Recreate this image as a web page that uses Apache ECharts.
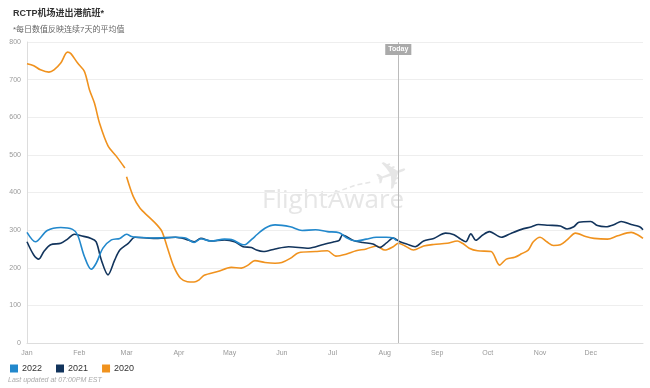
<!DOCTYPE html>
<html>
<head>
<meta charset="utf-8">
<script src="https://cdn.jsdelivr.net/npm/echarts@6/dist/echarts.min.js"></script>
<style>
html,body{margin:0;padding:0;background:#fff;}
#c{width:650px;height:388px;}
</style>
</head>
<body>
<div id="c"></div>
<script>
// ---- data (day of year, value) ----
const monthNames = ['Jan','Feb','Mar','Apr','May','Jun','Jul','Aug','Sep','Oct','Nov','Dec'];
const monthStarts = [0,31,59,90,120,151,181,212,243,273,304,334];
const todayDay = 220;

const days2022 = [0,5,12,20,27,30,34,38,41,45,50,55,59,62,65,75,88,94,99,103,109,117,122,128,130,135,141,147,156,163,171,178,185,190,195,201,207,213,217,219];
const vals2022 = [294,269,299,307,302,287,230,196,212,252,274,278,289,283,281,279,281,279,267,277,271,276,274,261,263,283,305,314,309,299,301,296,293,278,271,276,281,281,279,272];

const days2021 = [0,4,7,10,14,20,24,28,32,38,41,44,48,52,55,60,64,75,88,94,99,103,109,117,123,128,133,136,140,147,155,167,175,182,185,187,193,199,205,209,213,217,221,225,230,235,241,248,253,257,260,263,266,270,274,281,287,293,299,303,309,316,320,324,327,334,338,343,348,352,358,363,365];
const vals2021 = [269,234,223,243,261,265,276,289,285,278,269,221,181,221,247,265,281,278,281,276,269,278,271,274,269,256,254,247,243,250,256,252,261,269,273,287,273,267,263,254,266,279,269,263,256,271,278,292,288,276,269,290,273,287,296,281,292,302,309,315,313,311,303,309,321,323,312,309,315,323,315,309,301];

const days2020 = [0,4,8,13,16,20,24,26,30,34,37,40,43,48,53,58,58.5,59,63,67,72,77,80,83,87,91,95,99,102,105,113,121,127,131,135,141,147,151,156,161,171,178,183,189,195,201,207,212,217,220,224,229,235,241,249,255,258,262,267,275,280,284,289,293,297,300,304,308,312,316,320,325,331,336,344,350,358,362,365];
const vals2020 = [742,737,726,720,726,744,773,769,744,722,673,637,584,524,496,465,null,442,389,358,336,314,296,256,203,172,163,162,168,180,190,201,199,207,219,214,212,214,225,240,243,245,231,236,245,250,258,247,256,265,258,247,258,262,265,271,265,252,245,243,207,223,228,237,247,269,281,269,259,261,274,292,283,278,276,285,294,287,278];

const yTicks = [0,100,200,300,400,500,600,700,800];

function pairs(d, v){ return d.map((x,i)=>[x, v[i]===null ? '-' : v[i]]); }

const chart = echarts.init(document.getElementById('c'), null, {renderer:'canvas'});
const font = 'Arial, "Liberation Sans", "Noto Sans CJK SC", sans-serif';
const lineW = 1.6;
chart.setOption({
  animation:false,
  textStyle:{fontFamily:font},
  title:[
    {text:'RCTP机场进出港航班*', left:8, top:4, textStyle:{fontSize:9, fontWeight:'bold', color:'#333', fontFamily:font}},
    {text:'*每日数值反映连续7天的平均值', left:8, top:21, textStyle:{fontSize:8, fontWeight:'normal', color:'#666', fontFamily:font}},
    {text:'Last updated at 07:00PM EST', left:3, top:372, textStyle:{fontSize:7, fontStyle:'italic', fontWeight:'normal', color:'#aaa', fontFamily:font}}
  ],
  legend:{
    left:5, top:359, itemWidth:8, itemHeight:8, itemGap:14, icon:'rect',
    textStyle:{fontSize:9, color:'#333', padding:[0,0,0,-1]},
    data:['2022','2021','2020']
  },
  grid:{left:27, right:7, top:42, bottom:45},
  xAxis:{
    type:'value', min:0, max:365,
    axisLine:{show:true, lineStyle:{color:'#ddd'}},
    axisTick:{show:false},
    splitLine:{show:false},
    axisLabel:{
      customValues:monthStarts, fontSize:7, color:'#999', margin:7,
      formatter:function(v){ const i = monthStarts.indexOf(v); return i>=0 ? monthNames[i] : ''; }
    }
  },
  yAxis:{
    type:'value', min:0, max:800, interval:100,
    axisLine:{show:true, lineStyle:{color:'#ddd'}},
    axisTick:{show:false},
    splitLine:{lineStyle:{color:'#eee'}},
    axisLabel:{fontSize:7, color:'#999', margin:6}
  },
  graphic:[
    {type:'text', left:262, top:188, silent:true, z:0,
     style:{text:'FlightAware', fontSize:26, fill:'#e6e6e6', fontFamily:'"Open Sans", sans-serif'}},
    {type:'polyline', silent:true, z:0,
     shape:{points:[[328,197],[342,190],[356,185],[372,182]]},
     style:{stroke:'#e6e6e6', lineWidth:1.5, lineDash:[5,3], fill:null}},
    {type:'text', x:393, y:178, silent:true, z:0, rotation:0.35,
     style:{text:'✈', fontSize:40, fill:'#e6e6e6', align:'center', verticalAlign:'middle', fontFamily:'"DejaVu Sans", sans-serif'}}
  ],
  series:[
    {name:'2020', type:'line', data:pairs(days2020, vals2020), showSymbol:false, smooth:0.3,
     connectNulls:false, lineStyle:{width:lineW, color:'#f0921e'}, itemStyle:{color:'#f0921e'}},
    {name:'2021', type:'line', data:pairs(days2021, vals2021), showSymbol:false, smooth:0.3,
     lineStyle:{width:lineW, color:'#12345c'}, itemStyle:{color:'#12345c'}},
    {name:'2022', type:'line', data:pairs(days2022, vals2022), showSymbol:false, smooth:0.3,
     lineStyle:{width:lineW, color:'#2288cc'}, itemStyle:{color:'#2288cc'},
     markLine:{
       silent:true, symbol:['none','none'],
       lineStyle:{color:'#bbb', type:'solid', width:1},
       label:{show:true, position:'end', formatter:'Today', offset:[0,13],
              color:'#fff', fontSize:7, fontWeight:'bold', backgroundColor:'#aaa', padding:[2,3,2,3], distance:0},
       data:[[{coord:[todayDay,0]},{coord:[todayDay,800]}]]
     }}
  ]
});
</script>
</body>
</html>
